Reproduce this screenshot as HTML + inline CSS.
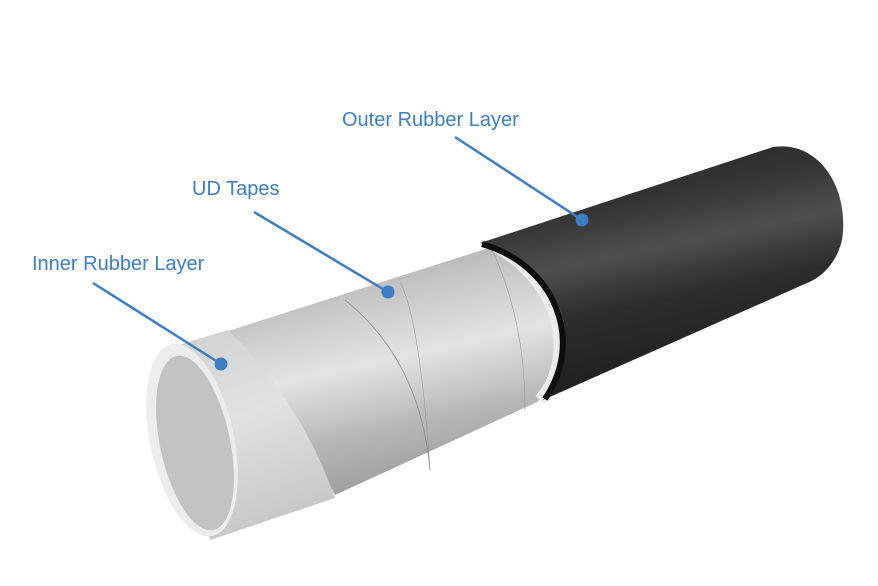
<!DOCTYPE html>
<html><head><style>
body{margin:0;background:#fff;width:878px;height:586px;overflow:hidden;font-family:"Liberation Sans",sans-serif}
.t{position:absolute;color:#3b7ec3;font-size:20px;white-space:nowrap}
</style></head><body>
<svg width="878" height="586" style="position:absolute;left:0;top:0">
<defs>
<linearGradient id="blk" x1="0" y1="0" x2="0.3" y2="1">
<stop offset="0" stop-color="#262626"/><stop offset="0.3" stop-color="#333"/><stop offset="0.5" stop-color="#4e4e4e"/><stop offset="0.7" stop-color="#2c2c2c"/><stop offset="1" stop-color="#1e1e1e"/></linearGradient>
<linearGradient id="sil" x1="0" y1="0" x2="0.3" y2="1">
<stop offset="0" stop-color="#9e9e9e"/><stop offset="0.3" stop-color="#c4c4c4"/><stop offset="0.55" stop-color="#e4e4e4"/><stop offset="0.8" stop-color="#b8b8b8"/><stop offset="1" stop-color="#a0a0a0"/></linearGradient>
<linearGradient id="wht" x1="0" y1="0" x2="0.3" y2="1">
<stop offset="0" stop-color="#d0d0d0"/><stop offset="0.5" stop-color="#e2e2e2"/><stop offset="1" stop-color="#c8c8c8"/></linearGradient>
</defs>
<!-- silver tape -->
<path d="M225,332 L495,246 C580,290 575,370 537,402 L335,495 Q290,410 225,332 Z" fill="url(#sil)"/>
<path d="M495,246 C565,285 575,360 540,400" stroke="#ececec" stroke-width="12" fill="none"/>
<path d="M345,300 Q420,360 430,470" stroke="#888" stroke-width="0.8" fill="none"/>
<path d="M400,282 Q420,320 430,470" stroke="#999" stroke-width="0.6" fill="none"/>
<path d="M492,250 Q525,320 525,410" stroke="#999" stroke-width="0.6" fill="none"/>
<!-- black tube -->
<path d="M480,243 L773,147 C820,140 850,190 842,240 C836,265 820,278 807,283 L543,400 C590,340 560,265 480,243 Z" fill="url(#blk)"/>
<path d="M482,244 C555,265 585,340 545,399" stroke="#0e0e0e" stroke-width="6" fill="none"/>
<!-- white inner layer -->
<path d="M162,350 L228,330 Q300,400 335,498 L210,540 Z" fill="url(#wht)"/>
<ellipse cx="192" cy="440" rx="42" ry="98" transform="rotate(-12 192 440)" fill="#ececec"/>
<ellipse cx="195" cy="443" rx="35" ry="89" transform="rotate(-12 195 443)" fill="#c2c2c2"/>
<!-- leaders -->
<g stroke="#3b7ec3" stroke-width="2.5" fill="#3b7ec3">
<line x1="455" y1="137" x2="582" y2="220"/><circle cx="582" cy="220" r="6.5" stroke="none"/>
<line x1="254" y1="212" x2="388" y2="292"/><circle cx="388" cy="292" r="6.5" stroke="none"/>
<line x1="93" y1="283" x2="221" y2="364"/><circle cx="221" cy="364" r="6.5" stroke="none"/>
</g>
</svg>
<div class="t" style="left:342px;top:109px">Outer Rubber Layer</div>
<div class="t" style="left:192px;top:178px">UD Tapes</div>
<div class="t" style="left:32px;top:253px">Inner Rubber Layer</div>
</body></html>
